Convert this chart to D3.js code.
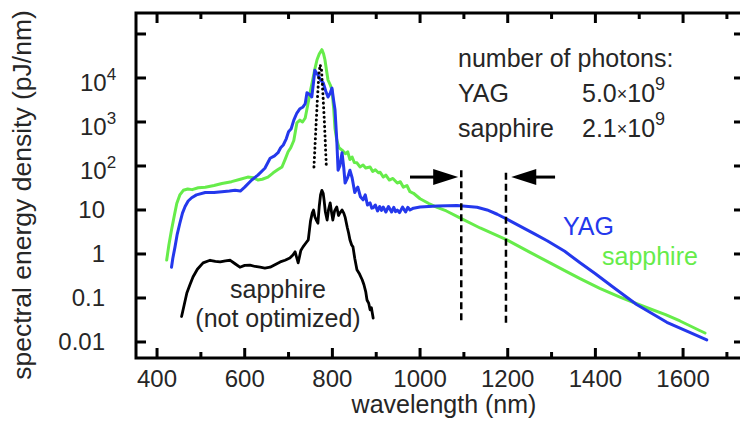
<!DOCTYPE html>
<html>
<head>
<meta charset="utf-8">
<script src="https://cdn.jsdelivr.net/npm/d3@7"></script>
<style>
  body { margin: 0; background: #fff; }
  svg { display: block; font-family: "Liberation Sans", Arial, Helvetica, sans-serif; }
</style>
</head>
<body>
<svg id="chart" width="740" height="423"></svg>
<script>
// ---- spectra: wavelength (nm) and spectral energy density (pJ/nm) ----
const yagWavelength = [433,436,441,446,452,458,464,471,479,490,510,530,548,565,578,590,600,616,630,646,658,668,676,682,688,695,700,706,712,719,726,733,738,742,748,753,757,760,764,767,773,779,785,790,795,799,803,806,810,813,817,822,826,829,835,840,845,851,855,858,864,870,875,880,886,890,893,898,903,908,912,916,922,928,935,940,944,948,953,960,967,972,977,985,1000,1039,1084,1130,1153,1176,1198,1230,1260,1290,1330,1365,1400,1440,1494,1530,1563,1610,1654];
const yagEnergy = [0.5,0.8,1.45,2.8,5,8.5,12,16,19,22,25,25,26,27,28,27,33,48,62,89,150,170,200,260,300,420,600,700,1100,1600,2000,2200,2600,4600,4200,3700,8000,15000,13000,11700,9000,7800,5000,3700,4500,5900,3000,1900,390,80,100,200,90,41,55,80,54,25,30,33,20,17,22,13,14.5,11,11.2,13,9.5,12,9.8,11.7,9,12,9,11.5,9.2,10,8.7,11.6,9,11.5,10,11,11.7,12.3,12.6,11.5,10,8,6.2,4.2,2.9,2.0,1.15,0.63,0.355,0.178,0.071,0.044,0.028,0.0174,0.0112];

const sapphireWavelength = [422,427,433,440,445,452,460,470,480,494,510,530,548,570,590,607,620,630,640,653,665,675,685,692,699,705,712,719,726,732,738,744,749,755,760,765,770,776,780,783,787,790,795,799,803,806,810,815,822,830,835,840,845,850,856,863,870,876,886,892,898,905,909,916,922,930,938,948,955,962,970,977,985,1000,1020,1039,1060,1091,1137,1198,1250,1290,1330,1365,1410,1456,1518,1560,1593,1639,1650];
const sapphireEnergy = [0.73,1.6,3.5,8,14,22,28,30,29,32,33,36,40,44,50,56,54,48,50,56,70,82,95,140,210,260,380,950,1100,1000,1230,2500,4600,9000,16000,26000,35000,44000,35000,26000,14000,9000,7000,5400,2000,700,390,260,230,190,210,140,160,120,118,95,105,90,95,75,82,70,72,56,62,48,52,41,44,33,36,26,24,18,14,11.5,9.5,6.6,3.9,2.1,1.1,0.68,0.42,0.275,0.166,0.105,0.06,0.042,0.03,0.018,0.016];

const basicWavelength = [456,462,468,475,482,492,505,521,533,544,556,567,578,589,600,612,624,635,646,658,670,681,692,703,710,715,719,722,728,733,740,745,750,754,757,760,763,767,770,773,776,779,781,784,788,791,795,798,801,805,810,814,817,822,826,829,834,837,840,844,847,851,856,862,868,872,876,879,883,886,889,893];
const basicEnergy = [0.038,0.07,0.13,0.2,0.3,0.45,0.63,0.72,0.68,0.66,0.7,0.72,0.6,0.5,0.55,0.56,0.52,0.5,0.48,0.5,0.58,0.66,0.72,0.81,0.95,1.12,0.8,0.63,1.2,1.45,1.8,2.1,5.5,8.5,10,7,6,5,12,22,28,24,17,9,5.9,10,14.5,9,5.9,9.5,11.7,7.5,8.5,10,8.5,6.9,4,3,2.1,1.6,1.45,0.8,0.44,0.35,0.26,0.2,0.14,0.09,0.075,0.054,0.06,0.035];

// seed spectrum (dotted)
const seedWavelength = [758,762,766,769,772,775,778,782,786];
const seedEnergy = [95,600,3500,11000,20000,16000,5000,900,105];

// integration window markers (nm) and their vertical extent (pJ/nm)
const windowWavelength = [1094,1196];
const windowTop = [80,70];
const windowBottom = [0.027,0.0245];

// photon counts
const photonLabels = ["YAG","sapphire"];
const photonMantissa = ["5.0","2.1"];
const photonExponent = ["9","9"];

// axes
const xTickValues = [400,500,600,700,800,900,1000,1100,1200,1300,1400,1500,1600,1700];
const yTickValues = [0.01,0.1,1,10,100,1000,10000,100000];
const yTickBase = ["0.01","0.1","1","10","10","10","10",""];
const yTickExp  = ["","","","","2","3","4",""];

const colors = { yag: "#2438ec", sapphire: "#66ec4a", black: "#000" };

// ---- layout ----
const svg = d3.select("#chart");
const plot = { left: 136, top: 13, right: 744, bottom: 358 };

const x = d3.scaleLinear().domain([352, 1739]).range([plot.left, plot.right]);
const y = d3.scaleLog().domain([Math.pow(10, -2.364), Math.pow(10, 5.477)]).range([plot.bottom, plot.top]);

const line = d3.line().x(d => x(d[0])).y(d => y(d[1]));
const zip = (a, b) => a.map((v, i) => [v, b[i]]);

// ---- curves ----
const curves = svg.append("g").attr("fill", "none").attr("stroke-linejoin", "round").attr("stroke-linecap", "round");

curves.append("path")
  .attr("d", line(zip(sapphireWavelength, sapphireEnergy)))
  .attr("stroke", colors.sapphire).attr("stroke-width", 3);

curves.append("path")
  .attr("d", line(zip(yagWavelength, yagEnergy)))
  .attr("stroke", colors.yag).attr("stroke-width", 3);

curves.append("path")
  .attr("d", line(zip(basicWavelength, basicEnergy)))
  .attr("stroke", colors.black).attr("stroke-width", 2.8);

curves.append("path")
  .attr("d", line(zip(seedWavelength, seedEnergy)))
  .attr("stroke", colors.black).attr("stroke-width", 3)
  .attr("stroke-dasharray", "0.1,4.6");

// ---- integration window ----
const win = svg.append("g").attr("stroke", "#000").attr("stroke-width", 2.5).attr("stroke-dasharray", "7,4");
windowWavelength.forEach((w, i) => {
  win.append("line")
    .attr("x1", x(w)).attr("x2", x(w))
    .attr("y1", y(windowTop[i])).attr("y2", y(windowBottom[i]));
});

// arrows pointing at the window edges
function arrow(fromNm, toNm, level) {
  const x0 = x(fromNm), x1 = x(toNm), yy = y(level);
  const dir = Math.sign(x1 - x0);
  const headLen = 25, half = 8;
  svg.append("line")
    .attr("x1", x0).attr("x2", x1 - dir * headLen + dir * 2)
    .attr("y1", yy).attr("y2", yy)
    .attr("stroke", "#000").attr("stroke-width", 3);
  svg.append("path")
    .attr("d", `M${x1},${yy}L${x1 - dir * headLen},${yy - half}L${x1 - dir * headLen},${yy + half}Z`)
    .attr("fill", "#000");
}
arrow(977, 1087, 56);
arrow(1308, 1208, 56);

// ---- frame and ticks ----
const axis = svg.append("g").attr("stroke", "#000").attr("stroke-width", 3).attr("fill", "none");
axis.append("rect")
  .attr("x", plot.left).attr("y", plot.top)
  .attr("width", plot.right - plot.left).attr("height", plot.bottom - plot.top);

xTickValues.forEach(v => {
  const len = v % 200 === 0 ? 10 : 6;
  axis.append("line").attr("x1", x(v)).attr("x2", x(v)).attr("y1", plot.bottom).attr("y2", plot.bottom - len);
  axis.append("line").attr("x1", x(v)).attr("x2", x(v)).attr("y1", plot.top).attr("y2", plot.top + len);
});
yTickValues.forEach(v => {
  axis.append("line").attr("x1", plot.left).attr("x2", plot.left + 10).attr("y1", y(v)).attr("y2", y(v));
  axis.append("line").attr("x1", plot.right).attr("x2", plot.right - 10).attr("y1", y(v)).attr("y2", y(v));
});

// ---- tick labels ----
const textColor = "#262626";
xTickValues.filter(v => v % 200 === 0 && v <= 1600).forEach(v => {
  svg.append("text").attr("x", x(v)).attr("y", 387)
    .attr("text-anchor", "middle").attr("font-size", 24).attr("fill", textColor).text(v);
});
yTickValues.forEach((v, i) => {
  if (!yTickBase[i]) return;
  const t = svg.append("text").attr("x", 80).attr("y", y(v) + 8.5)
    .attr("font-size", 24).attr("fill", textColor);
  if (yTickExp[i]) {
    t.attr("y", y(v) + 13);
    t.append("tspan").text(yTickBase[i]);
    t.append("tspan").attr("font-size", 17).attr("dy", -11).text(yTickExp[i]);
  } else {
    t.attr("x", 105).attr("text-anchor", "end").text(yTickBase[i]);
  }
});

// ---- axis titles ----
svg.append("text").attr("x", 444).attr("y", 413).attr("text-anchor", "middle")
  .attr("font-size", 25).attr("fill", textColor).text("wavelength (nm)");
svg.append("text").attr("transform", "translate(31,195) rotate(-90)").attr("text-anchor", "middle")
  .attr("font-size", 26.5).attr("fill", textColor).text("spectral energy density (pJ/nm)");

// ---- photon count table ----
svg.append("text").attr("x", 458).attr("y", 67).attr("font-size", 25).attr("fill", textColor).text("number of photons:");
photonLabels.forEach((lab, i) => {
  const yy = 102 + i * 35;
  svg.append("text").attr("x", 458).attr("y", yy).attr("font-size", 25).attr("fill", textColor).text(lab);
  const t = svg.append("text").attr("x", 582).attr("y", yy).attr("font-size", 25).attr("fill", textColor);
  t.append("tspan").text(photonMantissa[i]);
  t.append("tspan").attr("font-size", 18).attr("dy", -2).text("×");
  t.append("tspan").attr("dy", 2).text("10");
  t.append("tspan").attr("font-size", 18).attr("dy", -12).text(photonExponent[i]);
});

// ---- curve labels ----
svg.append("text").attr("x", 563).attr("y", 235).attr("font-size", 25).attr("fill", colors.yag).text("YAG");
svg.append("text").attr("x", 602).attr("y", 265).attr("font-size", 25).attr("fill", colors.sapphire).text("sapphire");
svg.append("text").attr("x", 278).attr("y", 298).attr("text-anchor", "middle").attr("font-size", 25).attr("fill", textColor).text("sapphire");
svg.append("text").attr("x", 278).attr("y", 327).attr("text-anchor", "middle").attr("font-size", 25).attr("fill", textColor).text("(not optimized)");
</script>
</body>
</html>
